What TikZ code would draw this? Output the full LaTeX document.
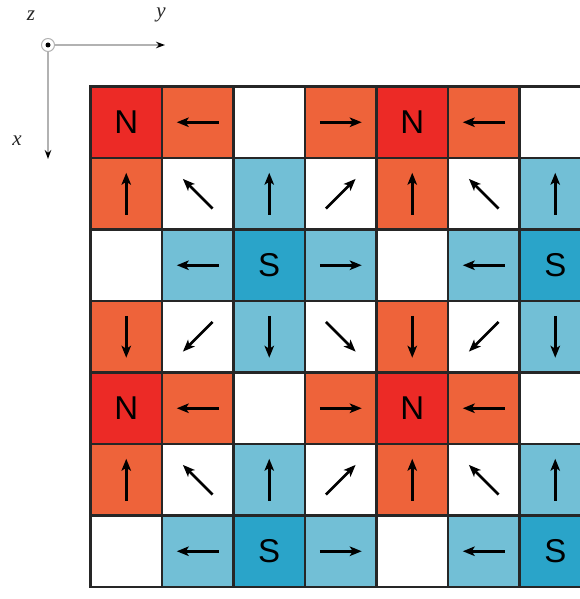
\documentclass[tikz,border=0pt]{standalone}
\usepackage{fontspec}
\setmainfont{Liberation Serif}
\newfontfamily\cellfont{Liberation Sans}
\usetikzlibrary{arrows.meta}
\definecolor{nred}{HTML}{EC2A26}
\definecolor{cor}{HTML}{EE633A}
\definecolor{lblue}{HTML}{72BFD6}
\definecolor{dblue}{HTML}{2AA4C9}
\newcommand\rowA{0/N/x,1/o/180,2/w/x,3/o/0,4/N/x,5/o/180,6/w/x}
\newcommand\rowB{0/o/90,1/w/135,2/b/90,3/w/45,4/o/90,5/w/135,6/b/90}
\newcommand\rowC{0/w/x,1/b/180,2/S/x,3/b/0,4/w/x,5/b/180,6/S/x}
\newcommand\rowD{0/o/270,1/w/225,2/b/270,3/w/315,4/o/270,5/w/225,6/b/270}
\def\noarrow{x}
\begin{document}
\begin{tikzpicture}[x=1pt,y=-1pt,
  cell/.style={draw=black!85, line width=2.15pt, minimum size=71.5pt, inner sep=0pt, outer sep=0pt, anchor=north west},
  t-N/.style={fill=nred, label={[font=\cellfont\fontsize{33}{33}\selectfont]center:N}},
  t-S/.style={fill=dblue, label={[font=\cellfont\fontsize{33}{33}\selectfont]center:S}},
  t-o/.style={fill=cor},
  t-b/.style={fill=lblue},
  t-w/.style={fill=white},
  spin/.style={line width=2.8pt, -{Stealth[length=12pt,width=9.5pt,inset=3pt]}},
  axisline/.style={draw=gray!60, line width=1.4pt, -{Stealth[length=9pt,width=6.5pt,color=black]}},
  axlabel/.style={font=\fontsize{21}{21}\selectfont\itshape, text=black!85}]
\path[use as bounding box] (0,0) rectangle (580,599);
\begin{scope}
\clip (0,0) rectangle (580,599);
\foreach \r/\pat in {0/A,1/B,2/C,3/D,4/A,5/B,6/C}{
  \expandafter\let\expandafter\plist\csname row\pat\endcsname
  \foreach \c/\t/\a in \plist{
    \node[cell, t-\t] (c\r-\c) at ({90.5+71.5*\c},{86.5+71.5*\r}) {};
    \edef\aa{\a}
    \ifx\aa\noarrow\else
      \draw[spin] ([shift={(\a+180:21pt)}]c\r-\c.center) -- ([shift={(\a:21pt)}]c\r-\c.center);
    \fi
  }
}
\end{scope}
% axes
\node[circle, draw=gray!60, line width=1pt, minimum size=13pt, inner sep=0pt] (o) at (48,45) {};
\fill[black] (o.center) circle (2.5pt);
\coordinate (ye) at (165,45);
\coordinate (xe) at (48,159);
\draw[axisline] (o.east) -- (ye);
\draw[axisline] (o.south) -- (xe);
\node[axlabel] (lz) at (31,16) {z};
\node[axlabel] (ly) at (161,15) {y};
\node[axlabel] (lx) at (17,141) {x};
\end{tikzpicture}
\end{document}
